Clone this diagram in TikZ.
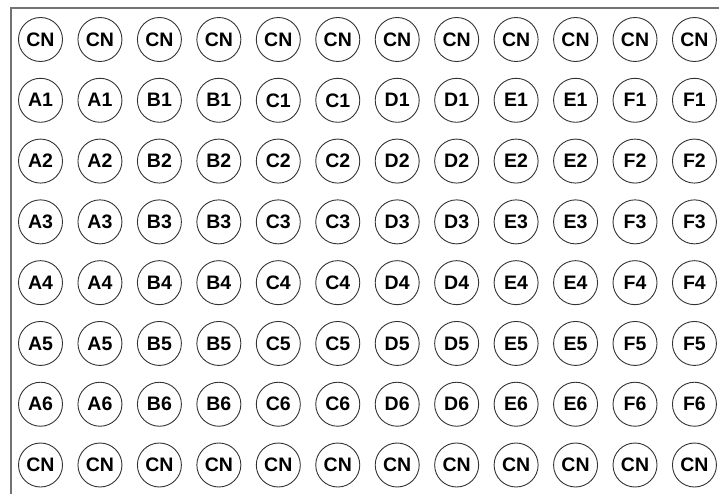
\documentclass[tikz,border=0pt]{standalone}
\usepackage{fontspec}
\setmainfont{Liberation Sans}
\begin{document}
\begin{tikzpicture}[x=1pt,y=1pt,
  well/.style={circle, draw=black!80, line width=0.9pt, minimum size=44pt, inner sep=0pt, font=\fontsize{19.5}{22}\selectfont\bfseries},
  frame/.style={draw=black!55, line width=2.2pt}]
\useasboundingbox (0,0) rectangle (719,-494);
\draw[frame] (11,-494) -- (11,-8) -- (719,-8);
\foreach \c in {1,...,12} {
  \pgfmathsetmacro{\xx}{40.5+(\c-1)*59.45}
  \node[well] (n-1-\c) at (\xx,-39.5) {CN};
  \node[well] (n-8-\c) at (\xx,-465) {CN};
  \pgfmathtruncatemacro{\li}{int((\c-1)/2)}
  \foreach \r in {2,...,7} {
    \pgfmathsetmacro{\yy}{-39.5-(\r-1)*60.79}
    \pgfmathtruncatemacro{\num}{\r-1}
    \node[well] (n-\r-\c) at (\xx,\yy) {\ifcase\li A\or B\or C\or D\or E\or F\fi\num};
  }
}
\end{tikzpicture}
\end{document}
